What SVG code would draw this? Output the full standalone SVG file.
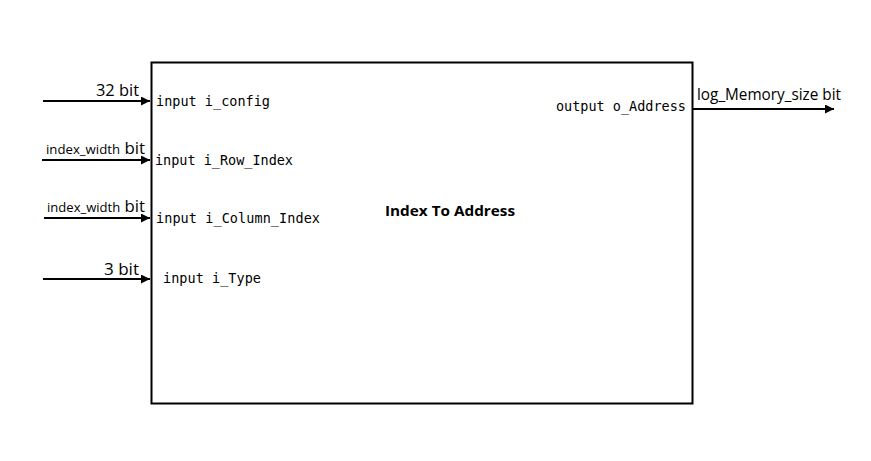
<svg xmlns="http://www.w3.org/2000/svg" width="871" height="461" viewBox="0 0 871 461">
<style>
.port{font-family:"DejaVu Sans Mono","Liberation Mono",monospace;font-size:13.5px;fill:#000}
.lbl{font-family:"Open Sans","Liberation Sans",sans-serif;fill:#000}
.wire{stroke:#000;stroke-width:2;fill:none;marker-end:url(#ah)}
</style>
<defs>
<marker id="ah" viewBox="0 0 10 10" refX="10" refY="5" markerWidth="5" markerHeight="4.5" markerUnits="strokeWidth" orient="auto">
<path d="M0,0 L10,5 L0,10 Z" fill="#000"/>
</marker>
</defs>
<rect width="871" height="461" fill="#fff"/>
<g id="block">
<rect x="151.5" y="62.5" width="541" height="341" fill="none" stroke="#000" stroke-width="2"/>
<text x="385" y="216" font-family="Open Sans, Liberation Sans, sans-serif" font-weight="bold" font-size="15" textLength="130" lengthAdjust="spacingAndGlyphs">Index To Address</text>
<text class="port" x="156" y="106" textLength="114">input i_config</text>
<text class="port" x="155" y="165" textLength="138">input i_Row_Index</text>
<text class="port" x="156" y="223" textLength="164">input i_Column_Index</text>
<text class="port" x="163" y="283" textLength="98">input i_Type</text>
<text class="port" x="556" y="111" textLength="130">output o_Address</text>
</g>
<g id="connectors">
<line class="wire" x1="43" y1="101" x2="150" y2="101"/>
<line class="wire" x1="42" y1="160" x2="150" y2="160"/>
<line class="wire" x1="44" y1="218" x2="150" y2="218"/>
<line class="wire" x1="43" y1="279" x2="150" y2="279"/>
<line class="wire" x1="693" y1="109" x2="834" y2="109"/>
</g>
<g id="labels">
<text class="lbl" x="96" y="96" font-size="16" textLength="43" lengthAdjust="spacingAndGlyphs">32 bit</text>
<text class="lbl" x="46" y="154" textLength="99" lengthAdjust="spacingAndGlyphs"><tspan font-size="12.5">index_width</tspan><tspan font-size="16"> bit</tspan></text>
<text class="lbl" x="47" y="212" textLength="98" lengthAdjust="spacingAndGlyphs"><tspan font-size="12.5">index_width</tspan><tspan font-size="16"> bit</tspan></text>
<text class="lbl" x="104" y="275" font-size="16" textLength="35" lengthAdjust="spacingAndGlyphs">3 bit</text>
<text class="lbl" x="697" y="100" font-size="16.5" textLength="144" lengthAdjust="spacingAndGlyphs">log_Memory_size bit</text>
</g>
</svg>
